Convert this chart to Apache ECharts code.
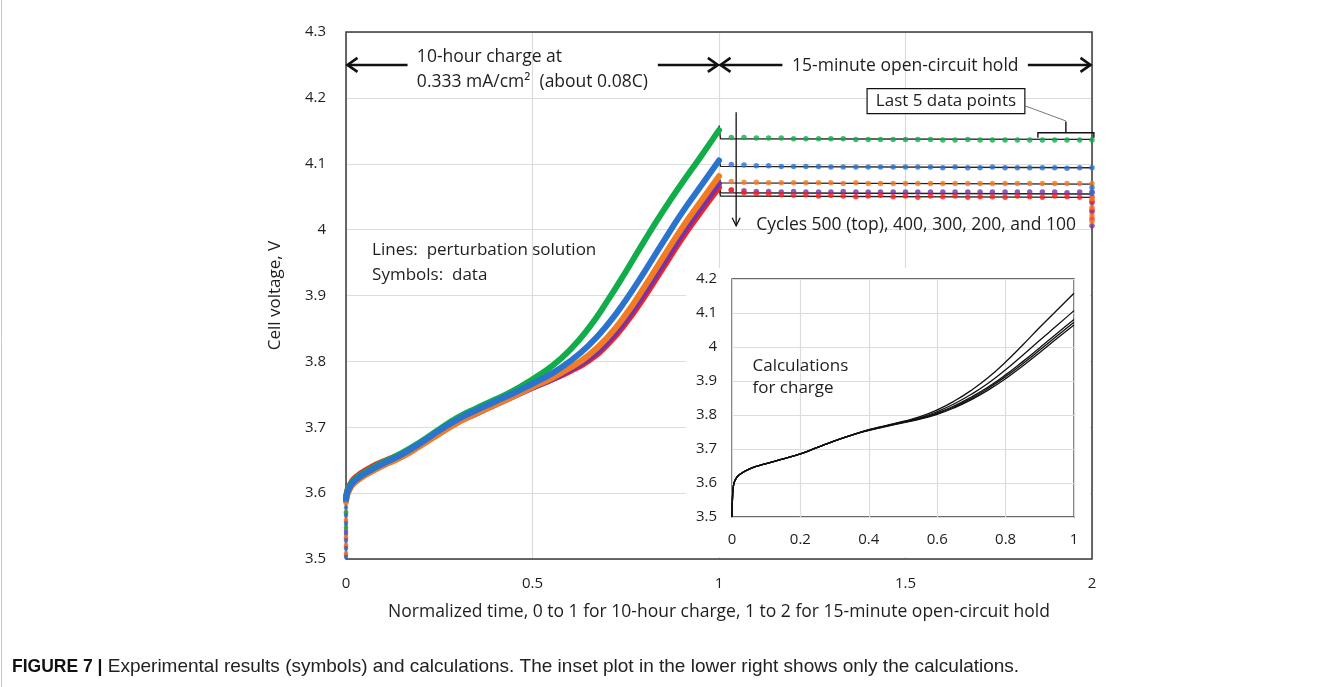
<!DOCTYPE html>
<html>
<head>
<meta charset="utf-8">
<script src="https://cdn.jsdelivr.net/npm/echarts/dist/echarts.min.js"></script>
<style>
  html, body { margin: 0; padding: 0; background: #fff; }
  #chart { width: 1342px; height: 687px; }
</style>
</head>
<body>
<div id="chart"></div>
<script>
// ---- Tick labels ----
const mainXLabels = ['0', '0.5', '1', '1.5', '2'];
const mainYLabels = ['3.5', '3.6', '3.7', '3.8', '3.9', '4', '4.1', '4.2', '4.3'];
const insetXLabels = ['0', '0.2', '0.4', '0.6', '0.8', '1'];
const insetYLabels = ['3.5', '3.6', '3.7', '3.8', '3.9', '4', '4.1', '4.2'];

// ---- Cycles and their symbol colours ----
const cycles = ['500', '400', '300', '200', '100'];
const cycleColors = ['#12ad4b', '#2a73cf', '#f27b24', '#7433a6', '#ff1f1f'];

// ---- Measured data: 10-hour charge (normalized time 0..1) ----
const chargeT = [0, 0.003, 0.01, 0.02, 0.04, 0.07, 0.1, 0.15, 0.2, 0.25, 0.3, 0.35, 0.4, 0.45, 0.5,
                 0.55, 0.6, 0.65, 0.7, 0.75, 0.8, 0.85, 0.9, 0.95, 1.0];
const charge500 = [3.592, 3.602, 3.611, 3.619, 3.628, 3.638, 3.647, 3.661, 3.678, 3.697, 3.715, 3.729, 3.742, 3.756, 3.773,
                   3.792, 3.817, 3.850, 3.891, 3.936, 3.983, 4.028, 4.070, 4.110, 4.151];
const charge400 = [3.590, 3.600, 3.609, 3.617, 3.626, 3.636, 3.645, 3.659, 3.676, 3.695, 3.712, 3.726, 3.739, 3.752, 3.766,
                   3.781, 3.800, 3.824, 3.855, 3.893, 3.936, 3.981, 4.025, 4.065, 4.105];
const charge300 = [3.588, 3.597, 3.606, 3.614, 3.623, 3.633, 3.642, 3.655, 3.672, 3.690, 3.707, 3.721, 3.734, 3.747, 3.761,
                   3.774, 3.790, 3.809, 3.836, 3.871, 3.913, 3.958, 4.002, 4.042, 4.081];
const charge200 = [3.588, 3.598, 3.607, 3.615, 3.624, 3.634, 3.643, 3.656, 3.673, 3.691, 3.708, 3.721, 3.734, 3.747, 3.760,
                   3.772, 3.787, 3.804, 3.829, 3.863, 3.904, 3.948, 3.992, 4.032, 4.070];
const charge100 = [3.590, 3.603, 3.612, 3.621, 3.630, 3.640, 3.648, 3.660, 3.676, 3.694, 3.710, 3.723, 3.735, 3.748, 3.761,
                   3.772, 3.785, 3.801, 3.825, 3.858, 3.898, 3.942, 3.986, 4.026, 4.064];

// First readings of the charge: the fast rise at t = 0
const rise500 = [3.548, 3.571];
const rise400 = [3.503, 3.516, 3.528, 3.541, 3.553, 3.566, 3.578];
const rise300 = [3.509, 3.522, 3.534, 3.547, 3.560, 3.572, 3.584];
const rise200 = [3.538];
const rise100 = [3.506, 3.519, 3.531, 3.544, 3.557, 3.569];

// ---- Measured data: 15-minute open-circuit hold (normalized time 1..2) ----
const holdT = [1.033, 1.067, 1.100, 1.133, 1.167, 1.200, 1.233, 1.267, 1.300, 1.333,
               1.367, 1.400, 1.433, 1.467, 1.500, 1.533, 1.567, 1.600, 1.633, 1.667,
               1.700, 1.733, 1.767, 1.800, 1.833, 1.867, 1.900, 1.933, 1.967, 2.000];
const hold500 = [4.140, 4.140, 4.139, 4.139, 4.139, 4.138, 4.138, 4.138, 4.138, 4.138,
                 4.137, 4.137, 4.137, 4.137, 4.137, 4.137, 4.137, 4.136, 4.136, 4.137,
                 4.136, 4.136, 4.136, 4.136, 4.136, 4.136, 4.136, 4.136, 4.136, 4.136];
const hold400 = [4.099, 4.098, 4.097, 4.097, 4.096, 4.096, 4.096, 4.096, 4.095, 4.095,
                 4.095, 4.095, 4.095, 4.095, 4.095, 4.095, 4.095, 4.094, 4.095, 4.094,
                 4.094, 4.095, 4.094, 4.094, 4.094, 4.094, 4.094, 4.093, 4.094, 4.094];
const hold300 = [4.073, 4.072, 4.072, 4.071, 4.071, 4.071, 4.071, 4.071, 4.071, 4.070,
                 4.071, 4.070, 4.070, 4.070, 4.070, 4.070, 4.070, 4.070, 4.070, 4.070,
                 4.070, 4.070, 4.070, 4.070, 4.070, 4.070, 4.070, 4.070, 4.070, 4.070];
const hold200 = [4.060, 4.059, 4.058, 4.058, 4.057, 4.058, 4.057, 4.057, 4.057, 4.058,
                 4.057, 4.057, 4.057, 4.057, 4.057, 4.057, 4.057, 4.057, 4.057, 4.057,
                 4.057, 4.057, 4.057, 4.057, 4.057, 4.057, 4.057, 4.056, 4.057, 4.057];
const hold100 = [4.060, 4.056, 4.055, 4.054, 4.053, 4.052, 4.053, 4.051, 4.052, 4.051,
                 4.050, 4.051, 4.052, 4.050, 4.051, 4.049, 4.051, 4.050, 4.051, 4.049,
                 4.050, 4.050, 4.049, 4.051, 4.050, 4.049, 4.051, 4.050, 4.049, 4.050];

// Readings logged at t = 2 as the next step begins
const after500 = [];
const after400 = [4.064, 4.056];
const after300 = [4.047, 4.034, 4.021, 4.012];
const after200 = [4.041, 4.027, 4.006];
const after100 = [4.044, 4.030, 4.016];

// ---- Perturbation solution ----
const calcT = [0, 0.002, 0.005, 0.01, 0.02, 0.05, 0.1, 0.15, 0.2, 0.25, 0.3, 0.35, 0.4, 0.45, 0.5,
               0.55, 0.6, 0.65, 0.7, 0.75, 0.8, 0.85, 0.9, 0.95, 1.0];
const calc500 = [3.500, 3.570, 3.596, 3.610, 3.623, 3.641, 3.657, 3.671, 3.686, 3.705, 3.724, 3.741, 3.757, 3.769, 3.781,
                 3.795, 3.815, 3.841, 3.873, 3.911, 3.956, 4.006, 4.058, 4.108, 4.158];
const calc400 = [3.500, 3.570, 3.596, 3.610, 3.623, 3.641, 3.657, 3.671, 3.686, 3.705, 3.724, 3.741, 3.756, 3.768, 3.780,
                 3.792, 3.810, 3.833, 3.861, 3.894, 3.933, 3.976, 4.020, 4.063, 4.107];
const calc300 = [3.500, 3.570, 3.596, 3.610, 3.623, 3.641, 3.657, 3.671, 3.686, 3.705, 3.724, 3.741, 3.756, 3.767, 3.779,
                 3.790, 3.806, 3.827, 3.853, 3.883, 3.918, 3.957, 3.998, 4.040, 4.081];
const calc200 = [3.500, 3.570, 3.596, 3.610, 3.623, 3.641, 3.657, 3.671, 3.686, 3.705, 3.724, 3.741, 3.755, 3.767, 3.778,
                 3.789, 3.804, 3.824, 3.849, 3.879, 3.913, 3.951, 3.991, 4.032, 4.073];
const calc100 = [3.500, 3.570, 3.596, 3.610, 3.623, 3.641, 3.657, 3.671, 3.686, 3.705, 3.724, 3.741, 3.755, 3.766, 3.777,
                 3.788, 3.802, 3.821, 3.845, 3.874, 3.907, 3.944, 3.984, 4.025, 4.065];
// Calculated open-circuit voltage at the start and end of the hold
const calcHoldT = [1.004, 2.0];
const calcHold500 = [4.138, 4.137];
const calcHold400 = [4.096, 4.094];
const calcHold300 = [4.071, 4.069];
const calcHold200 = [4.056, 4.054];
const calcHold100 = [4.051, 4.049];

const chargeSets = [charge500, charge400, charge300, charge200, charge100];
const riseSets = [rise500, rise400, rise300, rise200, rise100];
const holdSets = [hold500, hold400, hold300, hold200, hold100];
const afterSets = [after500, after400, after300, after200, after100];
const calcSets = [calc500, calc400, calc300, calc200, calc100];
const calcHoldSets = [calcHold500, calcHold400, calcHold300, calcHold200, calcHold100];

const FONT = '"Open Sans", "Noto Sans", sans-serif';
const CAP_FONT = '"Liberation Sans", Arial, sans-serif';
const TXT = '#1e1e1e';
const NOTE_FONT = '17.5px ' + FONT;

const zip = (xs, ys) => ys.map((y, i) => [xs[i], y]);
const labelFrom = (labels, min, step) => v => labels[Math.round((v - min) / step)] ?? '';

const series = [];

// Calculated hold voltage (black lines), drawn beneath the symbols
cycles.forEach((c, i) => {
  const calc = calcSets[i];
  const hold = calcHoldSets[i];
  series.push({
    name: 'calc hold ' + c, type: 'line', xAxisIndex: 0, yAxisIndex: 0,
    data: [[1, calc[calc.length - 1]]].concat(zip(calcHoldT, hold)),
    symbol: 'none', lineStyle: { color: '#222', width: 1.4 }, z: 2, silent: true
  });
});

// Charge data: dense symbols that merge into a thick band; 100 first, 400 on top
[4, 3, 2, 0, 1].forEach(i => {
  series.push({
    name: 'charge ' + cycles[i], type: 'line', xAxisIndex: 0, yAxisIndex: 0,
    data: zip(chargeT, chargeSets[i]), smooth: 0.5,
    symbol: 'none', lineStyle: { color: cycleColors[i], width: 6, cap: 'round', join: 'round' }, z: 3, silent: true
  });
  series.push({
    name: 'rise ' + cycles[i], type: 'scatter', xAxisIndex: 0, yAxisIndex: 0,
    data: riseSets[i].map(v => [0, v]), symbolSize: 4.5,
    itemStyle: { color: cycleColors[i] }, z: 3, silent: true
  });
});

// Hold data points
[3, 4, 2, 1, 0].forEach(i => {
  series.push({
    name: 'hold ' + cycles[i], type: 'scatter', xAxisIndex: 0, yAxisIndex: 0,
    data: zip(holdT, holdSets[i]).concat(afterSets[i].map(v => [2, v])),
    symbolSize: 5.5, itemStyle: { color: cycleColors[i] }, z: 4, silent: true
  });
});

// Inset: calculations only
cycles.forEach((c, i) => {
  series.push({
    name: 'inset ' + c, type: 'line', xAxisIndex: 1, yAxisIndex: 1,
    data: zip(calcT, calcSets[i]), smooth: 0.5,
    symbol: 'none', lineStyle: { color: '#111', width: 1.3, join: 'round' }, z: 6, silent: true
  });
});

const axisLabel = { color: TXT, fontFamily: FONT, fontSize: 15 };
const split = { show: true, lineStyle: { color: '#dcdcdc', width: 1.2 } };

const chart = echarts.init(document.getElementById('chart'), null, { renderer: 'canvas' });
chart.setOption({
  animation: false,
  backgroundColor: '#fff',
  grid: [
    { left: 346, top: 32, width: 746, height: 527, show: true, borderColor: '#3a3a3a', borderWidth: 1.5, z: 1 },
    { left: 732, top: 279, width: 342, height: 238, show: true, borderColor: '#3a3a3a', borderWidth: 1.3, z: 5 }
  ],
  xAxis: [
    { type: 'value', gridIndex: 0, min: 0, max: 2, interval: 0.5, z: 0,
      axisLine: { show: false }, axisTick: { show: false }, splitLine: split,
      axisLabel: Object.assign({ margin: 17, formatter: labelFrom(mainXLabels, 0, 0.5) }, axisLabel),
      name: 'Normalized time, 0 to 1 for 10-hour charge, 1 to 2 for 15-minute open-circuit hold',
      nameLocation: 'middle', nameGap: 44,
      nameTextStyle: { color: TXT, fontFamily: FONT, fontSize: 17.5 } },
    { type: 'value', gridIndex: 1, min: 0, max: 1, interval: 0.2, z: 5,
      axisLine: { show: false }, axisTick: { show: false }, splitLine: split,
      axisLabel: Object.assign({ margin: 15, formatter: labelFrom(insetXLabels, 0, 0.2) }, axisLabel) }
  ],
  yAxis: [
    { type: 'value', gridIndex: 0, min: 3.5, max: 4.3, interval: 0.1, z: 0,
      axisLine: { show: false }, axisTick: { show: false }, splitLine: split,
      axisLabel: Object.assign({ margin: 20, formatter: labelFrom(mainYLabels, 3.5, 0.1) }, axisLabel),
      name: 'Cell voltage, V', nameLocation: 'middle', nameGap: 62, nameRotate: 90,
      nameTextStyle: { color: TXT, fontFamily: FONT, fontSize: 17 } },
    { type: 'value', gridIndex: 1, min: 3.5, max: 4.2, interval: 0.1, z: 5,
      axisLine: { show: false }, axisTick: { show: false }, splitLine: split,
      axisLabel: Object.assign({ margin: 15, formatter: labelFrom(insetYLabels, 3.5, 0.1) }, axisLabel) }
  ],
  series: series
});

// ---- Annotations, placed in data coordinates of the main plot ----
const P = (x, y) => chart.convertToPixel({ xAxisIndex: 0, yAxisIndex: 0 }, [x, y]);
const graphics = [];
const ink = '#111';

// white panel behind the inset
graphics.push({ type: 'rect', z: 4, silent: true,
  shape: { x: 686, y: 268, width: 404, height: 289 }, style: { fill: '#fff' } });

// thin frame line at the figure's left edge
graphics.push({ type: 'line', z: 12, silent: true,
  shape: { x1: 1.5, y1: 0, x2: 1.5, y2: 687 }, style: { stroke: '#c8c8c8', lineWidth: 1 } });

function arrow(x0, x1, y, headAt) {
  const a = P(x0, y), b = P(x1, y);
  graphics.push({ type: 'line', z: 10, silent: true,
    shape: { x1: a[0], y1: a[1], x2: b[0], y2: b[1] }, style: { stroke: ink, lineWidth: 2.6 } });
  const tip = headAt === 'left' ? a : b;
  const d = headAt === 'left' ? 10 : -10;
  graphics.push({ type: 'polyline', z: 10, silent: true,
    shape: { points: [[tip[0] + d, tip[1] - 7], tip, [tip[0] + d, tip[1] + 7]] },
    style: { stroke: ink, lineWidth: 2.6, fill: null } });
}
function text(x, y, str, opts) {
  const p = P(x, y);
  graphics.push({ type: 'text', z: 10, silent: true, x: p[0], y: p[1],
    style: Object.assign({ text: str, fill: TXT, font: NOTE_FONT, verticalAlign: 'middle', align: 'left' }, opts || {}) });
}

arrow(0.004, 0.165, 4.25, 'left');
arrow(0.836, 0.997, 4.25, 'right');
arrow(1.004, 1.17, 4.25, 'left');
arrow(1.828, 1.996, 4.25, 'right');
text(0.19, 4.262, '10-hour charge at');
text(0.19, 4.224, '0.333 mA/cm\u00B2  (about 0.08C)');
text(1.196, 4.249, '15-minute open-circuit hold');

// "Last 5 data points" callout and bracket
(function () {
  const a = P(1.397, 4.214), b = P(1.82, 4.176);
  graphics.push({ type: 'rect', z: 10, silent: true,
    shape: { x: a[0], y: a[1], width: b[0] - a[0], height: b[1] - a[1] },
    style: { fill: '#fff', stroke: ink, lineWidth: 1.2 } });
  graphics.push({ type: 'text', z: 11, silent: true, x: (a[0] + b[0]) / 2, y: (a[1] + b[1]) / 2,
    style: { text: 'Last 5 data points', fill: TXT, font: '17px ' + FONT, align: 'center', verticalAlign: 'middle' } });
  const l0 = P(1.82, 4.188), l1 = P(1.93, 4.165);
  graphics.push({ type: 'line', z: 10, silent: true,
    shape: { x1: l0[0], y1: l0[1], x2: l1[0], y2: l1[1] }, style: { stroke: '#777', lineWidth: 1 } });
  const s = P(1.855, 4.147), e = P(2.005, 4.147), m = P(1.93, 4.147), top = P(1.93, 4.164);
  graphics.push({ type: 'polyline', z: 10, silent: true,
    shape: { points: [[s[0], s[1] + 5], s, e, [e[0], e[1] + 5]] }, style: { stroke: ink, lineWidth: 1.4, fill: null } });
  graphics.push({ type: 'line', z: 10, silent: true,
    shape: { x1: m[0], y1: m[1], x2: top[0], y2: top[1] }, style: { stroke: ink, lineWidth: 1.4 } });
})();

// Downward arrow marking cycle order
(function () {
  const a = P(1.046, 4.178), b = P(1.046, 4.006);
  graphics.push({ type: 'line', z: 10, silent: true,
    shape: { x1: a[0], y1: a[1], x2: b[0], y2: b[1] }, style: { stroke: ink, lineWidth: 1.3 } });
  graphics.push({ type: 'polyline', z: 10, silent: true,
    shape: { points: [[b[0] - 4, b[1] - 8], b, [b[0] + 4, b[1] - 8]] }, style: { stroke: ink, lineWidth: 1.3, fill: null } });
})();
text(1.1, 4.007, 'Cycles 500 (top), 400, 300, 200, and 100');

text(0.07, 3.969, 'Lines:  perturbation solution', { font: '17px ' + FONT });
text(0.07, 3.931, 'Symbols:  data', { font: '17px ' + FONT });

// Inset caption
(function () {
  const p = chart.convertToPixel({ xAxisIndex: 1, yAxisIndex: 1 }, [0.06, 3.945]);
  const q = chart.convertToPixel({ xAxisIndex: 1, yAxisIndex: 1 }, [0.06, 3.878]);
  graphics.push({ type: 'text', z: 11, silent: true, x: p[0], y: p[1],
    style: { text: 'Calculations', fill: TXT, font: '17px ' + FONT, verticalAlign: 'middle' } });
  graphics.push({ type: 'text', z: 11, silent: true, x: q[0], y: q[1],
    style: { text: 'for charge', fill: TXT, font: '17px ' + FONT, verticalAlign: 'middle' } });
})();

// Figure caption
graphics.push({ type: 'text', z: 11, silent: true, x: 12, y: 667,
  style: { text: '{b|FIGURE 7 |}{r| Experimental results (symbols) and calculations. The inset plot in the lower right shows only the calculations.}',
    verticalAlign: 'middle',
    rich: {
      b: { fontWeight: 'bold', fill: '#111', fontSize: 17.5, fontFamily: CAP_FONT },
      r: { fill: '#222', fontSize: 19, fontFamily: CAP_FONT }
    } } });

chart.setOption({ graphic: graphics });
</script>
</body>
</html>
